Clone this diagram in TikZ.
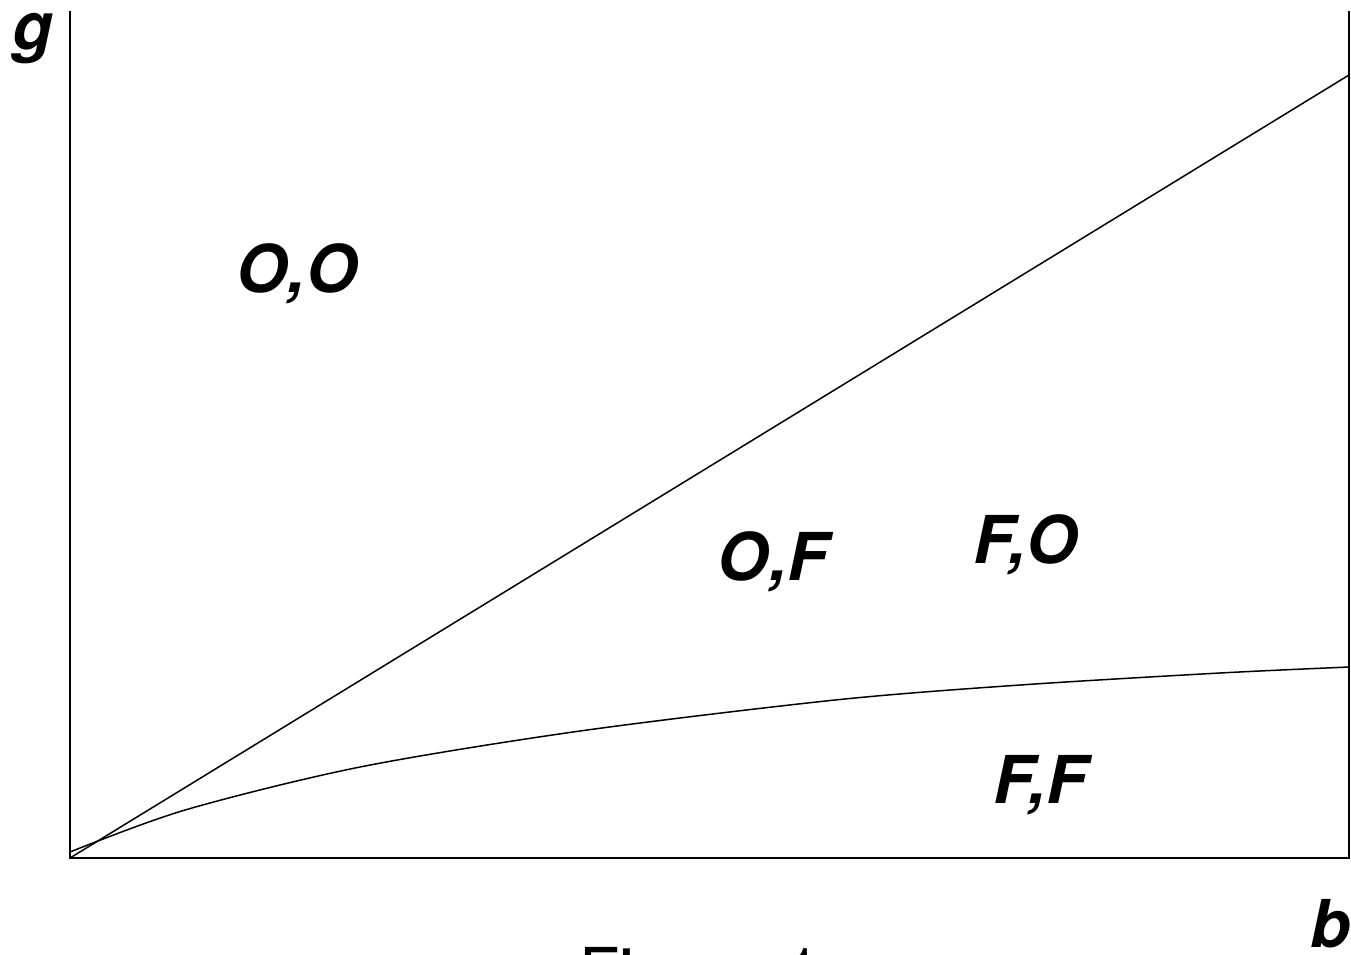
\documentclass[tikz,border=0pt]{standalone}
\usepackage{fontspec}
\setmainfont{TeX Gyre Heros}
\usepackage{tikz}

\begin{document}
\begin{tikzpicture}
    [x=1pt, y=-1pt,
    line width=1.5pt,
    region/.style={anchor=base, font=\fontsize{66}{70}\selectfont\bfseries\itshape},
    caption/.style={anchor=base, font=\fontsize{66}{70}\selectfont}]
    \useasboundingbox (0,0) rectangle (1351,954);
    \coordinate (top left) at (70,11);
    \coordinate (origin) at (70,858);
    \coordinate (bottom right) at (1349,858);
    \coordinate (top right) at (1349,11);
    \draw (top left) -- (origin) -- (bottom right) -- (top right);
    % boundary lines
    \coordinate (diag end) at (1349,75);
    \draw (origin) -- (diag end);
    \draw plot[smooth, tension=0.5] coordinates {(70,852) (185,810) (360,767)
      (580,731) (835,700) (1020,685) (1220,673) (1349,667)};
    % labels
    \node[region] (g) at (33,49) {g};
    \node[region] (b) at (1331,947) {b};
    \node[region] (oo) at (297,292) {O,O};
    \node[region] (of) at (773,580) {O,F};
    \node[region] (fo) at (1026,563) {F,O};
    \node[region] (ff) at (1040,803) {F,F};
    \node[caption] (fig) at (700,995) {Figure 1};
  \end{tikzpicture}
\end{document}
